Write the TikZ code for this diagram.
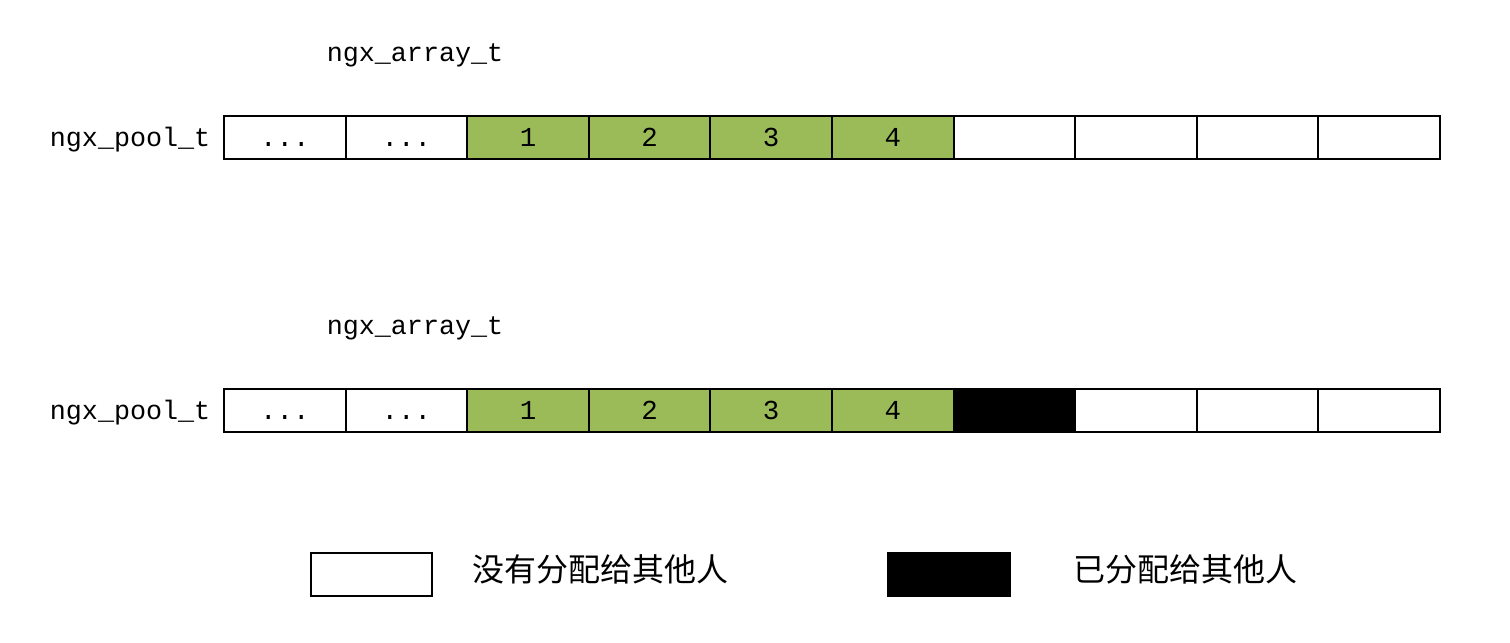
\documentclass[tikz,border=0pt]{standalone}
\usepackage{fontspec}
\setmonofont{Liberation Mono}
\newfontfamily\cjk{Noto Sans CJK SC}
\definecolor{cellgreen}{HTML}{9BBB59}
\begin{document}
\begin{tikzpicture}[x=0.01cm,y=-0.01cm,
  cell/.style={draw=black,line width=0.6pt,minimum width=121.6*0.01cm,minimum height=43*0.01cm,inner sep=0pt,outer sep=0pt,anchor=center,text height=0.72em,text depth=0.18em,font=\ttfamily\fontsize{7.8pt}{9pt}\selectfont},
  free/.style={cell,fill=white},
  used/.style={cell,fill=cellgreen},
  taken/.style={cell,fill=black},
  lbl/.style={inner sep=0pt,text height=0.72em,text depth=0.18em,font=\ttfamily\fontsize{7.6pt}{9pt}\selectfont},
  cjklbl/.style={inner sep=0pt,font=\cjk\fontsize{9.1pt}{10pt}\selectfont}]
\useasboundingbox (0,0) rectangle (1510,643);
% row 1
\node[lbl] (arr1) at (415,52) {ngx\_array\_t};
\node[lbl,anchor=east] (pool1) at (211,137) {ngx\_pool\_t};
\node[free] (a1) at (284.8,137.5) {...};
\node[free] (a2) at (406.4,137.5) {...};
\node[used] (a3) at (528,137.5) {1};
\node[used] (a4) at (649.6,137.5) {2};
\node[used] (a5) at (771.2,137.5) {3};
\node[used] (a6) at (892.8,137.5) {4};
\node[free] (a7) at (1014.4,137.5) {};
\node[free] (a8) at (1136,137.5) {};
\node[free] (a9) at (1257.6,137.5) {};
\node[free] (a10) at (1379.2,137.5) {};
% row 2
\node[lbl] (arr2) at (415,325) {ngx\_array\_t};
\node[lbl,anchor=east] (pool2) at (211,410) {ngx\_pool\_t};
\node[free] (b1) at (284.8,410.5) {...};
\node[free] (b2) at (406.4,410.5) {...};
\node[used] (b3) at (528,410.5) {1};
\node[used] (b4) at (649.6,410.5) {2};
\node[used] (b5) at (771.2,410.5) {3};
\node[used] (b6) at (892.8,410.5) {4};
\node[taken] (b7) at (1014.4,410.5) {};
\node[free] (b8) at (1136,410.5) {};
\node[free] (b9) at (1257.6,410.5) {};
\node[free] (b10) at (1379.2,410.5) {};
% legend
\node[free] (lg1) at (371.5,574.5) {};
\node[cjklbl,anchor=west] (lt1) at (472,569) {没有分配给其他人};
\node[taken] (lg2) at (949,574.5) {};
\node[cjklbl,anchor=west] (lt2) at (1073,569) {已分配给其他人};
\end{tikzpicture}
\end{document}
